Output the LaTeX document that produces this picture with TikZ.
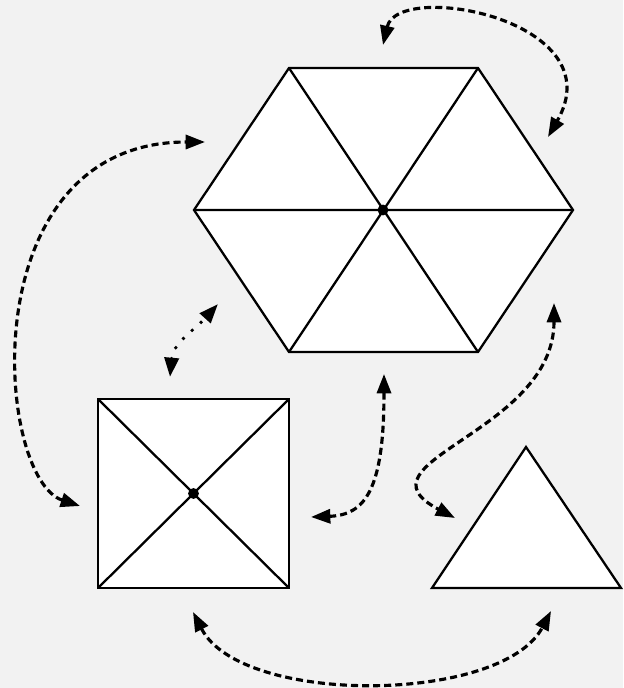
\documentclass[tikz,border=0pt]{standalone}
\usetikzlibrary{arrows.meta}
\definecolor{bggray}{HTML}{F2F2F2}

\begin{document}
\begin{tikzpicture}[x=0.02cm, y=0.02cm,
  shapeline/.style={line width=1.3pt, fill=white},
  spoke/.style={line width=1.3pt},
  link/.style={line width=1.8pt, dash pattern=on 4pt off 2.3pt,
    {Triangle[length=11pt,width=8pt]}-{Triangle[length=11pt,width=8pt]}},
  dotlink/.style={line width=2.2pt, line cap=round, dash pattern=on 0pt off 6.8pt,
    {Triangle[length=11pt,width=8pt]}-{Triangle[length=11pt,width=8pt]}}]
  \useasboundingbox (0,0) rectangle (623,-688);
  \fill[bggray] (0,0) rectangle (623,-688);

  % hexagon
  \coordinate (Hc) at (383,-210);
  \coordinate (H1) at (573,-210);
  \coordinate (H2) at (478,-68);
  \coordinate (H3) at (289,-68);
  \coordinate (H4) at (194,-210);
  \coordinate (H5) at (289,-352);
  \coordinate (H6) at (478,-352);
  \draw[shapeline] (H1)--(H2)--(H3)--(H4)--(H5)--(H6)--cycle;
  \draw[spoke] (H1)--(H4) (H2)--(H5) (H3)--(H6);
  \fill (Hc) circle[radius=3.1pt];

  % square
  \coordinate (Sc) at (193.5,-493.5);
  \coordinate (S1) at (98,-399);
  \coordinate (S2) at (289,-399);
  \coordinate (S3) at (289,-588);
  \coordinate (S4) at (98,-588);
  \draw[shapeline] (S1)--(S2)--(S3)--(S4)--cycle;
  \draw[spoke] (S1)--(S3) (S2)--(S4);
  \fill (Sc) circle[radius=3.1pt];

  % triangle
  \coordinate (T1) at (432,-588);
  \coordinate (T2) at (621,-588);
  \coordinate (T3) at (526,-447);
  \draw[shapeline] (T1)--(T2)--(T3)--cycle;

  % arrow ends
  \coordinate (hexTop) at (383,-45);
  \coordinate (hexTopR) at (548,-137);
  \coordinate (hexLeft) at (205,-142);
  \coordinate (hexBL) at (218,-304);
  \coordinate (hexBot) at (384,-374);
  \coordinate (hexBR) at (554,-303);
  \coordinate (sqLeft) at (80,-506);
  \coordinate (sqTop) at (170,-377);
  \coordinate (sqRight) at (311,-517);
  \coordinate (sqBot) at (193,-612);
  \coordinate (triLeft) at (455,-518);
  \coordinate (triBot) at (551,-611);

  % links
  \draw[link] (hexTop) .. controls (398,20) and (615,-20) .. (hexTopR);
  \draw[link] (sqLeft) .. controls (-5,-478) and (-30,-142) .. (hexLeft);
  \draw[dotlink] (sqTop) to[out=85, in=228] (hexBL);
  \draw[link] (hexBot) .. controls (384,-490) and (365,-515) .. (sqRight);
  \draw[link] (hexBR) .. controls (554,-433) and (349,-462) .. (triLeft);
  \draw[link] (sqBot) .. controls (241,-706) and (502,-704) .. (triBot);
\end{tikzpicture}
\end{document}
